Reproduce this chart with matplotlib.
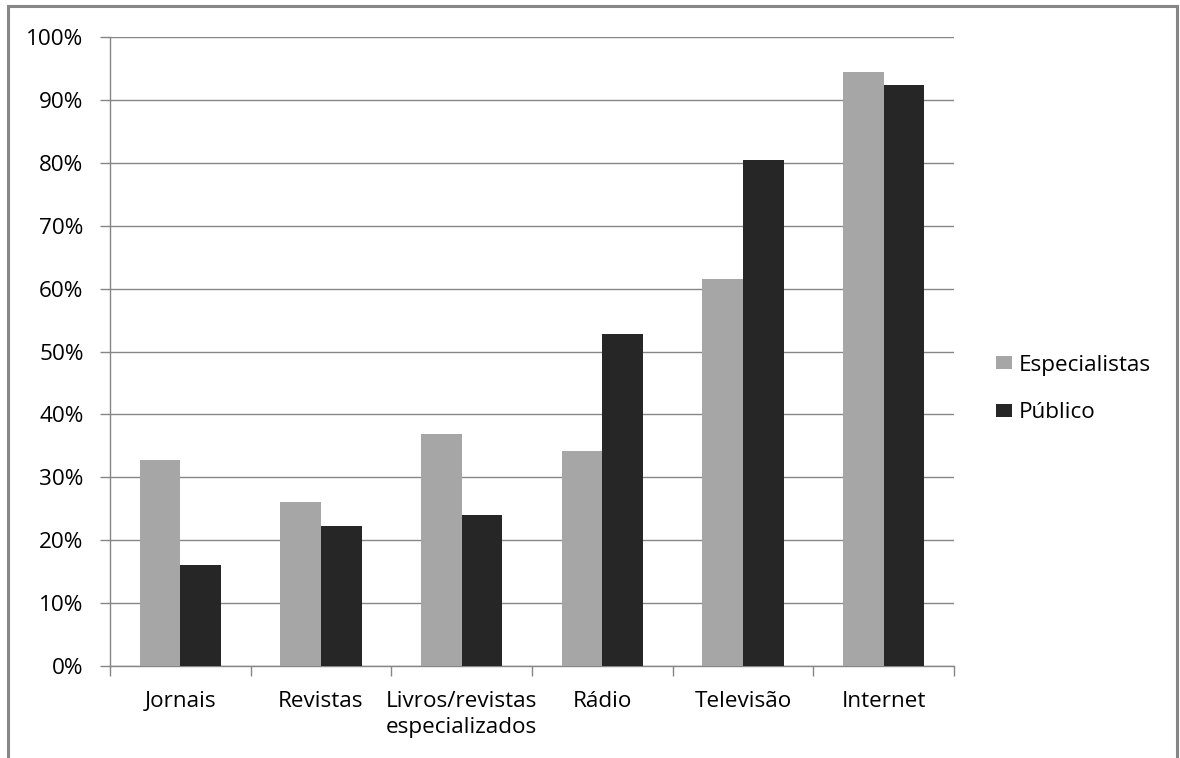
import matplotlib
matplotlib.use("Agg")
import matplotlib.pyplot as plt
import matplotlib.patches as patches
import numpy as np
from matplotlib.ticker import FixedLocator, PercentFormatter

categories = ["Jornais", "Revistas", "Livros/revistas\nespecializados",
              "Rádio", "Televisão", "Internet"]
especialistas = [32.8, 26.1, 36.9, 34.2, 61.5, 94.4]
publico = [16.1, 22.3, 24.0, 52.8, 80.4, 92.4]
series_names = ["Especialistas", "Público"]

GRAY = "#A6A6A6"
DARK = "#262626"
LINE = "#868686"
FS = 16.2

plt.rcParams["font.family"] = ["Open Sans", "DejaVu Sans"]

fig = plt.figure(figsize=(11.8, 7.58), dpi=100)
ax = fig.add_axes([110 / 1180, 1 - 666 / 758, (954 - 110) / 1180, (666 - 37) / 758])

x = np.arange(len(categories))
w = 0.29
b1 = ax.bar(x - w / 2, especialistas, w, color=GRAY, zorder=3)
b2 = ax.bar(x + w / 2, publico, w, color=DARK, zorder=3)

ax.set_xlim(-0.5, len(categories) - 0.5)
ax.set_ylim(0, 100)

# y axis: gridlines every 10%
ax.set_yticks(np.arange(0, 101, 10))
ax.yaxis.set_major_formatter(PercentFormatter(decimals=0))
ax.yaxis.grid(True, color=LINE, linewidth=1)
ax.tick_params(axis="y", length=7, width=1, color=LINE, pad=12,
               labelsize=FS, labelcolor="black")

# x axis: ticks between categories, labels at centres
ax.xaxis.set_major_locator(FixedLocator(np.arange(-0.5, len(categories), 1)))
ax.xaxis.set_major_formatter(plt.NullFormatter())
ax.xaxis.set_minor_locator(FixedLocator(x))
ax.set_xticklabels(categories, minor=True, linespacing=1.3)
ax.tick_params(axis="x", which="major", length=7, width=1, color=LINE)
ax.tick_params(axis="x", which="minor", length=0, pad=18,
               labelsize=FS, labelcolor="black")

for side in ["top", "right"]:
    ax.spines[side].set_visible(False)
for side in ["left", "bottom"]:
    ax.spines[side].set_color(LINE)
    ax.spines[side].set_linewidth(1)

fig.legend([b1, b2], series_names, loc="center left",
           bbox_to_anchor=(976 / 1180, 1 - 389 / 758), frameon=False,
           fontsize=FS, handlelength=0.71, handleheight=0.53,
           handletextpad=0.3, labelspacing=1.2)

# outer chart frame
frame = patches.Rectangle((8 / 1180, -0.05), (1177 - 8) / 1180, 1.05 - 6 / 758,
                          transform=fig.transFigure, fill=False,
                          edgecolor=LINE, linewidth=2.2, clip_on=False)
fig.patches.append(frame)

fig.savefig("out.png", dpi=100)
